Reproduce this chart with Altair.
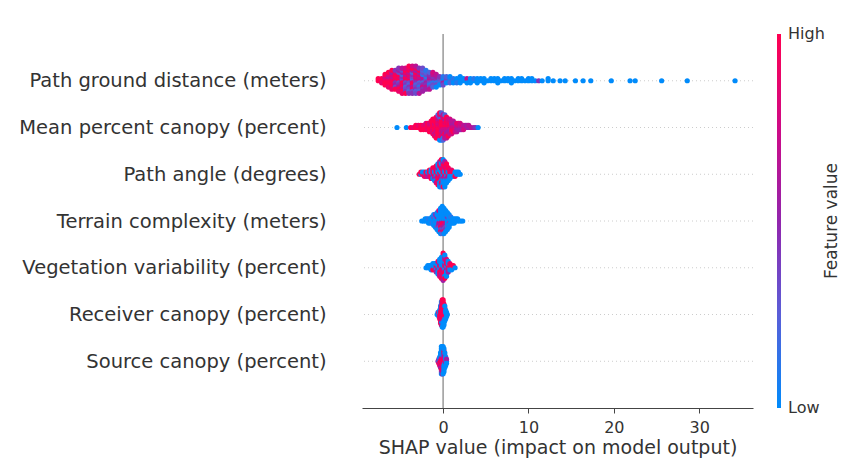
import math
import altair as alt
import pandas as pd

features = [
    "Path ground distance (meters)",
    "Mean percent canopy (percent)",
    "Path angle (degrees)",
    "Terrain complexity (meters)",
    "Vegetation variability (percent)",
    "Receiver canopy (percent)",
    "Source canopy (percent)",
]

# For every feature: SHAP values where points sit, and for each value a string of
# feature levels (0 = low ... 9 = high), one digit per point stacked at that value.
pgd_shap = [-7.6, -7.2, -6.8, -6.4, -6.0, -5.6, -5.2, -4.8, -4.4, -4.0, -3.6, -3.2,
            -2.8, -2.4, -2.0, -1.6, -1.2, -0.8, -0.4, 0.0, 0.4, 0.8, 1.2, 1.6, 2.0,
            2.4, 2.8, 3.2, 3.6, 4.0, 4.4, 4.8, 5.2, 5.6, 6.0, 6.4, 6.8, 7.2, 7.6, 8.0,
            8.4, 8.8, 9.2, 9.6, 10.0, 10.4, 10.8, 11.2, 11.6, 12.3, 12.9, 13.7, 14.3,
            15.5, 16.4, 17.3, 19.7, 21.9, 22.5, 25.6, 28.6, 34.2]
pgd_levels = ["99", "998", "989799", "98969789", "9896979589", "9849593894",
              "793849639584", "6394829573968", "5839462839479", "49372846392849",
              "52839462853947", "36482739452836", "4726381539246", "352641734253",
              "2351436251", "263514326", "25143627", "2415360", "13240", "20513",
              "1302", "0120", "010", "001", "1000", "00", "060", "000", "01", "000",
              "00", "000", "0", "00", "00", "000", "0", "00", "00", "000", "0", "00",
              "00", "0", "00", "00", "0", "4", "0", "00", "0", "0", "0", "0", "0", "0",
              "0", "0", "0", "0", "0", "0"]

mpc_shap = [-5.4, -4.3, -3.8, -3.5, -3.2, -2.9, -2.6, -2.3, -2.0, -1.8, -1.6, -1.4,
            -1.2, -1.0, -0.8, -0.6, -0.4, -0.2, 0.0, 0.2, 0.4, 0.6, 0.8, 1.0, 1.2,
            1.4, 1.6, 1.8, 2.0, 2.2, 2.4, 2.6, 2.8, 3.0, 3.3, 3.6, 3.8, 4.1]
mpc_levels = ["0", "0", "9", "8", "99", "98", "999", "989", "9897", "9989", "98979",
              "989799", "99897989", "989799698", "99897989699", "989798969792",
              "98979896928709", "79896989719802", "8979695987162", "797868957962",
              "69786958796", "697858679", "78695867", "6785967", "678596", "67857",
              "76586", "6758", "7657", "675", "567", "76", "65", "56", "6", "5", "4", "0"]

pa_shap = [-2.8, -2.6, -2.4, -2.2, -2.0, -1.8, -1.6, -1.4, -1.2, -1.0, -0.8, -0.6,
           -0.4, -0.2, 0.0, 0.2, 0.4, 0.6, 0.8, 1.0, 1.2, 1.4, 1.6, 1.8, 2.0]
pa_levels = ["9", "09", "90", "908", "098", "905", "0979", "90809", "095809", "9080590",
             "090958097", "90809590709", "0950809709050", "90805907905009",
             "09085907090590", "9080570909050", "0908590709", "9080590", "09080",
             "0908", "090", "009", "00", "00", "0"]

tc_shap = [-2.5, -2.3, -2.1, -1.9, -1.7, -1.5, -1.3, -1.1, -0.9, -0.7, -0.5, -0.3,
           -0.1, 0.1, 0.3, 0.5, 0.7, 0.9, 1.1, 1.3, 1.5, 1.7, 1.9, 2.1, 2.3]
tc_levels = ["0", "0", "00", "00", "010", "000", "0010", "000300", "0010040",
             "000500300", "00605030070", "0070509030800", "50809060307020",
             "6090705030800", "50706030400", "000400200", "0030000", "0001", "000",
             "000", "00", "00", "0", "0", "0"]

vv_shap = [-2.0, -1.8, -1.6, -1.4, -1.2, -1.0, -0.8, -0.6, -0.4, -0.2, 0.0, 0.2, 0.4,
           0.6, 0.8, 1.0, 1.2, 1.4]
vv_levels = ["0", "00", "00", "000", "0090", "0090", "09005", "9050080", "090590807",
             "90809050709", "90508090709059", "090580970590", "905809070", "098050",
             "0908", "090", "09", "0"]

rc_shap = [-0.7, -0.6, -0.5, -0.4, -0.3, -0.2, -0.1, 0.0, 0.1, 0.2, 0.3, 0.4, 0.5]
rc_levels = ["0", "00", "090", "90809", "989790809", "998979890480", "99899879094809",
             "89989978090809", "98998908090", "98970900", "90800", "000", "0"]

sc_shap = [-0.6, -0.5, -0.4, -0.3, -0.2, -0.1, 0.0, 0.1, 0.2, 0.3, 0.4]
sc_levels = ["5", "059", "90508", "98907050", "98968050904000", "89798060907050",
             "99869070805000", "989705080900", "89070500", "90500", "050"]

colorbar_colors = ["#008bfb", "#5a5ed8", "#9225ad", "#cf0a86", "#ff0051"]

rows = [(pgd_shap, pgd_levels), (mpc_shap, mpc_levels), (pa_shap, pa_levels),
        (tc_shap, tc_levels), (vv_shap, vv_levels), (rc_shap, rc_levels),
        (sc_shap, sc_levels)]

# beeswarm layout (as in shap): points sharing a value alternate above/below the row
records = []
n = len(features)
for i, (name, (vals, levels)) in enumerate(zip(features, rows)):
    assert len(vals) == len(levels), name
    pos = n - 1 - i
    pts = []
    for v, s in zip(vals, levels):
        for layer, ch in enumerate(s):
            off = math.ceil(layer / 2) * (1 if layer % 2 else -1)
            pts.append((v, int(ch) / 9.0, off))
    top = max(p[2] for p in pts)
    k = 0.9 * 0.4 / (top + 1)
    for v, lv, off in pts:
        records.append({"feature": name, "shap": v, "level": lv, "ypos": pos + off * k})

points = pd.DataFrame(records)
row_lines = pd.DataFrame({"pos": list(range(n))})
zero = pd.DataFrame({"z": [0]})

font = "DejaVu Sans"
xscale = alt.Scale(domain=[-9.5, 36.3], nice=False, zero=False)
yscale = alt.Scale(domain=[-1, 7], nice=False, zero=False)

label_expr = "[" + ",".join("'" + f + "'" for f in reversed(features)) + "][datum.value]"

xaxis = alt.Axis(
    values=[0, 10, 20, 30], grid=False, domainColor="#444444", domainWidth=1,
    tickColor="#444444", tickSize=5, labelFontSize=16, labelColor="#333333",
    labelFont=font, labelPadding=6, title="SHAP value (impact on model output)",
    titleFontSize=19, titleFont=font, titleFontWeight="normal",
    titleColor="#333333", titlePadding=3,
)
yaxis = alt.Axis(
    values=list(range(n)), labelExpr=label_expr, grid=False, domain=False,
    ticks=False, tickSize=0, labelPadding=36, labelFontSize=19.5, labelFont=font,
    labelColor="#333333", labelLimit=600, labelOverlap=False, title=None,
)

dotted = alt.Chart(row_lines).mark_rule(
    color="#cccccc", strokeDash=[1, 3], strokeWidth=1
).encode(y=alt.Y("pos:Q", scale=yscale, axis=yaxis))

zero_line = alt.Chart(zero).mark_rule(color="#999999", strokeWidth=1.5).encode(
    x=alt.X("z:Q", scale=xscale, axis=xaxis)
)

dots = alt.Chart(points).mark_circle(size=27, opacity=1).encode(
    x=alt.X("shap:Q", scale=xscale, axis=xaxis),
    y=alt.Y("ypos:Q", scale=yscale, axis=yaxis),
    color=alt.Color(
        "level:Q",
        scale=alt.Scale(domain=[0, 0.25, 0.5, 0.75, 1], range=colorbar_colors,
                        interpolate="rgb"),
        legend=alt.Legend(
            title=None, orient="none", legendX=415, legendY=0, direction="vertical",
            gradientLength=374, gradientThickness=4, gradientStrokeWidth=0,
            values=[0.0001, 0.9999], labelExpr="datum.value > 0.5 ? 'High' : 'Low'",
            labelFontSize=16, labelFont=font, labelColor="#333333", labelOffset=7,
            labelBaseline="middle", labelOverlap=False,
        ),
    ),
)

legend_title = alt.Chart(pd.DataFrame({"t": ["Feature value"]})).mark_text(
    angle=270, fontSize=17, font=font, color="#333333", align="center", baseline="middle"
).encode(text="t:N", x=alt.value(470), y=alt.value(187))

chart = alt.layer(dotted, zero_line, dots, legend_title).properties(
    width=391,
    height=374,
    padding={"left": 354, "top": 26, "right": 93, "bottom": 50},
    autosize=alt.AutoSizeParams(type="none"),
    background="white",
).configure_view(stroke=None)

chart.save("out.html", embed_options={"renderer": "svg", "actions": False})
